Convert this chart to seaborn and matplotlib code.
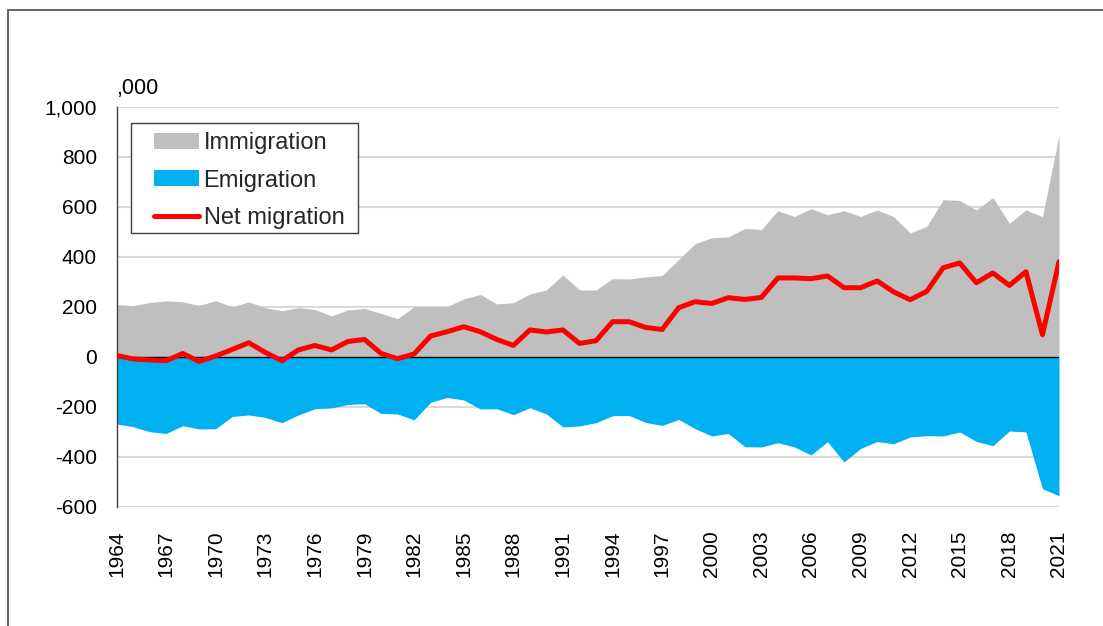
import numpy as np
import pandas as pd
import matplotlib
matplotlib.use("Agg")
import matplotlib.pyplot as plt
import matplotlib.patches as mpatches
from matplotlib.lines import Line2D
from matplotlib.ticker import FuncFormatter
import seaborn as sns

years = list(range(1964, 2022))

immigration = [209, 204, 217, 223, 220, 205, 224, 200, 219, 196,
               184, 196, 189, 163, 187, 193, 173, 152, 200, 201,
               201, 231, 249, 211, 216, 251, 267, 327, 267, 267,
               312, 311, 319, 325, 389, 452, 476, 479, 513, 509,
               584, 561, 592, 568, 584, 561, 587, 560, 495, 521,
               628, 625, 587, 637, 533, 587, 560, 885]

emigration = [-269, -280, -300, -307, -276, -289, -288, -239, -233, -243,
              -264, -233, -208, -205, -191, -188, -227, -229, -253, -182,
              -163, -173, -209, -208, -232, -204, -229, -281, -277, -264,
              -236, -235, -263, -275, -251, -288, -317, -307, -360, -361,
              -344, -361, -393, -340, -421, -367, -339, -348, -321, -316,
              -317, -301, -339, -356, -297, -301, -528, -556]

net_migration = [5, -9, -13, -16, 13, -19, 3, 29, 56, 17,
                 -16, 27, 45, 27, 61, 69, 13, -8, 11, 83,
                 100, 120, 100, 69, 45, 107, 99, 107, 53, 64,
                 140, 140, 117, 109, 196, 220, 213, 236, 229, 237,
                 315, 315, 312, 323, 276, 276, 303, 259, 228, 261,
                 356, 375, 296, 335, 285, 340, 88, 380]

y_ticks = [-600, -400, -200, 0, 200, 400, 600, 800, 1000]
x_ticks = list(range(1964, 2022, 3))
legend_labels = ["Immigration", "Emigration", "Net migration"]
unit_label = ",000"

df = pd.DataFrame({"year": years, "immigration": immigration,
                   "emigration": emigration, "net": net_migration})

sns.set_theme(style="white")
plt.rcParams["font.family"] = ["Liberation Sans", "DejaVu Sans"]

GREY = "#bfbfbf"
BLUE = "#00b0f0"
RED = "#ff0000"

W, H = 1103, 626
fig = plt.figure(figsize=(W / 100, H / 100), dpi=100)
fig.patch.set_facecolor("white")

# outer border (top and left visible)
border = mpatches.Rectangle((8 / W, -0.2), 2.0, (1 - 10 / H) + 0.2,
                            transform=fig.transFigure, fill=False,
                            edgecolor="#595959", linewidth=1.3, clip_on=False)
fig.patches.append(border)

left, right, top, bottom = 116.5, 1059, 106.7, 506.7
ax = fig.add_axes([left / W, 1 - bottom / H, (right - left) / W, (bottom - top) / H])
ax.set_facecolor("white")

ax.fill_between(df["year"], 0, df["immigration"], color=GREY, linewidth=0, zorder=2)
ax.fill_between(df["year"], 0, df["emigration"], color=BLUE, linewidth=0, zorder=2)
ax.axhline(0, color="black", linewidth=1.0, zorder=3)
sns.lineplot(data=df, x="year", y="net", ax=ax, color=RED, linewidth=3.6,
             zorder=4, legend=False)

ax.set_xlim(1964, 2021)
ax.set_ylim(-600, 1000)
ax.set_yticks(y_ticks)
ax.yaxis.set_major_formatter(FuncFormatter(lambda v, p: f"{int(v):,}"))
ax.set_xticks(x_ticks)
ax.set_xticklabels([str(x) for x in x_ticks], rotation=90)
ax.grid(axis="y", color="#d9d9d9", linewidth=1.5)
ax.grid(axis="x", visible=False)
ax.set_axisbelow(True)
ax.set_xlabel("")
ax.set_ylabel("")

for s in ["top", "right", "bottom"]:
    ax.spines[s].set_visible(False)
ax.spines["left"].set_color("#404040")
ax.spines["left"].set_linewidth(1.0)
ax.tick_params(axis="both", length=0, labelsize=15, colors="black")
ax.tick_params(axis="y", pad=14)
ax.tick_params(axis="x", pad=17)

ax.text(0.0, 1.02, unit_label, transform=ax.transAxes, ha="left", va="bottom",
        fontsize=15.5, color="black")

# legend frame drawn separately (pixel box 131..358 x 123..233)
def fx(px):
    return px / W

def fy(py):
    return 1 - py / H

frame = mpatches.Rectangle((fx(131), fy(233)), fx(358) - fx(131), fy(123) - fy(233),
                           transform=fig.transFigure, facecolor="white",
                           edgecolor="#404040", linewidth=1.0, zorder=5)
ax.add_artist(frame)
frame.set_transform(fig.transFigure)

handles = [mpatches.Patch(facecolor=GREY, edgecolor="none"),
           mpatches.Patch(facecolor=BLUE, edgecolor="none"),
           Line2D([0], [0], color=RED, linewidth=3.6)]
leg = ax.legend(handles, legend_labels, loc="upper left",
                bbox_to_anchor=(fx(154), fy(132)), bbox_transform=fig.transFigure,
                borderaxespad=0, borderpad=0, fontsize=17, frameon=False,
                handlelength=1.9, handleheight=0.64, handletextpad=0.2,
                labelspacing=0.66)
leg.set_zorder(6)

fig.savefig("out.png", dpi=100, facecolor="white")
